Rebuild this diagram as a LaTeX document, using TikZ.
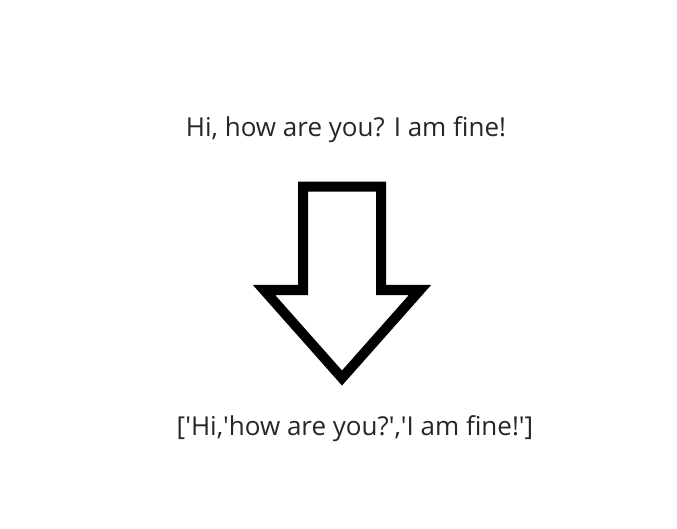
\documentclass[tikz,border=0pt]{standalone}
\usepackage{fontspec}
\newfontfamily\uifont{Open Sans}
\newcommand{\sq}{\textquotesingle}
\begin{document}
\begin{tikzpicture}[
    x=1pt, y=-1pt,
    every node/.style={inner sep=0pt, font=\uifont\fontsize{26}{31}\selectfont, text=black!85},
    bigarrow/.style={draw=black, line width=10pt, fill=white}
]
\useasboundingbox (0,0) rectangle (677,529);
\node[anchor=base] (sentence) at (346,136.7) {Hi, how are you? I am fine!};
\node[anchor=base] (tokens) at (355,435) {[\sq Hi,\sq how are you?\sq,\sq I am fine!\sq]};

% hollow arrow between the two texts
\draw[bigarrow] (303,186.7) -- (381,186.7) -- (381,290) -- (420,290) -- (342,378)
    -- (264,290) -- (303,290) -- cycle;
\end{tikzpicture}
\end{document}
